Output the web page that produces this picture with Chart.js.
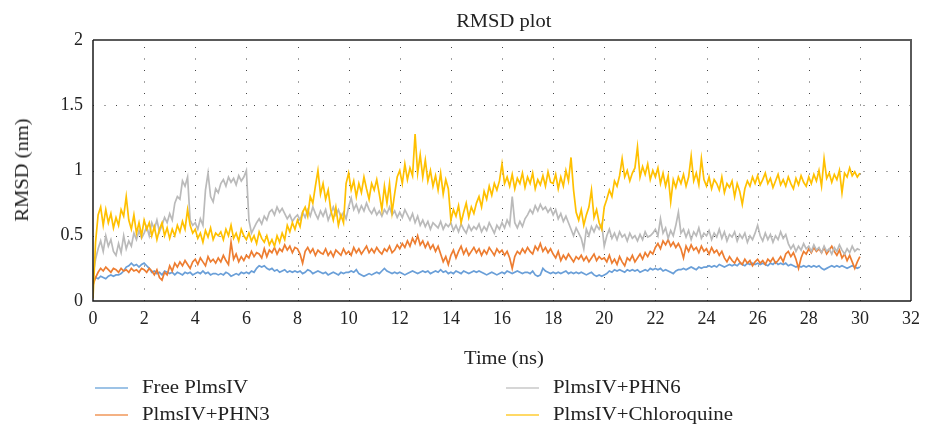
<!DOCTYPE html>
<html>
<head>
<meta charset="utf-8">
<script src="https://cdn.jsdelivr.net/npm/chart.js@4/dist/chart.umd.min.js"></script>
<style>
  html, body { margin: 0; padding: 0; background: #fff; }
  #wrap { position: relative; width: 927px; height: 425px; font-family: "Liberation Serif", serif; color: #222; }
  #chart { position: absolute; left: 0; top: 0; }
  .txt { position: absolute; font-size: 18px; line-height: 20px; white-space: nowrap; }
  .title { left: 0; width: 1007px; top: 11px; text-align: center; }
  .title span { display: inline-block; transform: scaleX(1.14); }
  .xtitle { left: 0; width: 1007px; top: 348px; text-align: center; }
  .xtitle span { display: inline-block; transform: scaleX(1.14); }
  .ytitle { left: 22px; top: 170px; width: 0; height: 0; }
  .ytitle span { position: absolute; left: 0; top: 0; transform: translate(-50%, -50%) rotate(-90deg) scaleX(1.14); }
  .leg { transform: scaleX(1.16); transform-origin: 0 50%; }
  .swatch { position: absolute; width: 33px; height: 2px; }
</style>
</head>
<body>
<div id="wrap">
  <canvas id="chart" width="927" height="425"></canvas>
  <div class="txt title"><span>RMSD plot</span></div>
  <div class="txt xtitle"><span>Time (ns)</span></div>
  <div class="txt ytitle"><span>RMSD (nm)</span></div>
  <div id="legend"></div>
</div>
<script>
// Sampling interval of the trajectories (ns)
const TIME_STEP = 0.1;

// Axis ranges and tick spacing
const X_MIN = 0, X_MAX = 32, X_STEP = 2;
const Y_MIN = 0, Y_MAX = 2, Y_STEP = 0.5;

const seriesNames = ["Free PlmsIV", "PlmsIV+PHN3", "PlmsIV+PHN6", "PlmsIV+Chloroquine"];

// RMSD (nm), one row per nanosecond
const freePlmsIV = [
  0.15,0.18,0.17,0.19,0.18,0.17,0.19,0.2,0.19,0.2,
  0.2,0.21,0.23,0.26,0.27,0.29,0.27,0.28,0.26,0.28,
  0.29,0.27,0.25,0.22,0.23,0.21,0.22,0.2,0.23,0.22,
  0.21,0.22,0.2,0.22,0.21,0.2,0.22,0.21,0.22,0.2,
  0.21,0.22,0.21,0.23,0.21,0.22,0.2,0.21,0.21,0.2,
  0.21,0.2,0.22,0.21,0.19,0.2,0.21,0.2,0.22,0.21,
  0.22,0.21,0.23,0.22,0.25,0.27,0.26,0.27,0.25,0.24,
  0.25,0.23,0.24,0.22,0.23,0.24,0.22,0.23,0.22,0.23,
  0.22,0.23,0.21,0.22,0.24,0.23,0.21,0.22,0.23,0.22,
  0.21,0.22,0.2,0.21,0.22,0.21,0.2,0.22,0.21,0.22,
  0.22,0.23,0.22,0.24,0.21,0.2,0.19,0.2,0.21,0.2,
  0.21,0.22,0.21,0.23,0.25,0.23,0.22,0.21,0.22,0.21,
  0.22,0.21,0.2,0.21,0.22,0.23,0.22,0.21,0.22,0.23,
  0.22,0.23,0.21,0.22,0.23,0.22,0.24,0.22,0.23,0.21,
  0.22,0.21,0.23,0.22,0.21,0.23,0.22,0.21,0.22,0.23,
  0.22,0.23,0.22,0.21,0.2,0.21,0.22,0.21,0.2,0.21,
  0.22,0.21,0.23,0.22,0.21,0.22,0.23,0.22,0.21,0.22,
  0.22,0.21,0.23,0.2,0.19,0.2,0.25,0.23,0.22,0.21,
  0.22,0.21,0.22,0.21,0.22,0.23,0.21,0.22,0.21,0.22,
  0.21,0.22,0.21,0.2,0.21,0.22,0.2,0.19,0.2,0.19,
  0.2,0.21,0.23,0.22,0.24,0.23,0.24,0.23,0.22,0.24,
  0.23,0.24,0.23,0.24,0.22,0.23,0.24,0.23,0.25,0.24,
  0.25,0.24,0.25,0.23,0.24,0.23,0.22,0.21,0.23,0.24,
  0.24,0.25,0.24,0.25,0.26,0.25,0.24,0.26,0.25,0.26,
  0.26,0.27,0.26,0.27,0.26,0.28,0.27,0.26,0.27,0.28,
  0.27,0.28,0.27,0.29,0.28,0.27,0.29,0.28,0.29,0.28,
  0.29,0.28,0.29,0.28,0.27,0.29,0.28,0.3,0.28,0.29,
  0.28,0.29,0.27,0.28,0.27,0.26,0.27,0.26,0.27,0.26,
  0.27,0.26,0.27,0.26,0.27,0.25,0.24,0.25,0.26,0.27,
  0.26,0.27,0.26,0.27,0.26,0.25,0.26,0.27,0.26,0.25,
  0.26
];

const phn3 = [
  0.12,0.18,0.22,0.25,0.23,0.26,0.24,0.22,0.25,0.24,
  0.22,0.25,0.23,0.24,0.22,0.25,0.23,0.24,0.22,0.25,
  0.24,0.22,0.25,0.23,0.2,0.24,0.18,0.16,0.22,0.2,
  0.27,0.23,0.29,0.26,0.3,0.27,0.31,0.28,0.25,0.3,
  0.32,0.28,0.33,0.3,0.27,0.34,0.3,0.32,0.29,0.33,
  0.3,0.35,0.31,0.28,0.45,0.32,0.36,0.3,0.34,0.31,
  0.35,0.33,0.38,0.34,0.37,0.36,0.33,0.4,0.34,0.39,
  0.37,0.41,0.36,0.4,0.38,0.43,0.39,0.42,0.37,0.41,
  0.4,0.36,0.29,0.38,0.41,0.37,0.4,0.35,0.39,0.37,
  0.36,0.4,0.35,0.38,0.34,0.39,0.37,0.35,0.4,0.36,
  0.38,0.35,0.41,0.37,0.4,0.36,0.39,0.42,0.37,0.4,
  0.37,0.41,0.38,0.36,0.4,0.38,0.42,0.37,0.39,0.43,
  0.4,0.44,0.41,0.46,0.42,0.48,0.44,0.5,0.43,0.46,
  0.41,0.45,0.4,0.43,0.38,0.42,0.36,0.3,0.34,0.28,
  0.35,0.39,0.33,0.38,0.42,0.36,0.4,0.35,0.38,0.41,
  0.37,0.4,0.35,0.39,0.36,0.41,0.38,0.35,0.4,0.37,
  0.39,0.35,0.38,0.33,0.25,0.34,0.38,0.36,0.4,0.37,
  0.41,0.38,0.36,0.42,0.39,0.44,0.38,0.41,0.37,0.4,
  0.36,0.33,0.38,0.31,0.35,0.32,0.36,0.33,0.3,0.34,
  0.32,0.35,0.31,0.34,0.3,0.33,0.36,0.31,0.34,0.32,
  0.33,0.3,0.35,0.29,0.32,0.28,0.34,0.3,0.27,0.33,
  0.31,0.35,0.3,0.33,0.36,0.32,0.37,0.34,0.38,0.36,
  0.41,0.44,0.4,0.46,0.43,0.47,0.42,0.45,0.41,0.44,
  0.4,0.33,0.42,0.38,0.43,0.39,0.41,0.37,0.42,0.38,
  0.4,0.36,0.41,0.37,0.39,0.35,0.38,0.33,0.3,0.34,
  0.31,0.29,0.33,0.3,0.28,0.32,0.29,0.31,0.27,0.3,
  0.32,0.29,0.31,0.28,0.32,0.3,0.33,0.29,0.31,0.34,
  0.3,0.36,0.38,0.34,0.37,0.32,0.25,0.33,0.38,0.36,
  0.4,0.37,0.41,0.38,0.4,0.37,0.41,0.36,0.39,0.42,
  0.38,0.35,0.39,0.33,0.36,0.31,0.35,0.3,0.25,0.3,
  0.34
];

const phn6 = [
  0.2,0.32,0.4,0.46,0.38,0.5,0.42,0.47,0.38,0.35,
  0.44,0.37,0.5,0.4,0.46,0.42,0.52,0.47,0.54,0.48,
  0.52,0.57,0.5,0.6,0.55,0.62,0.53,0.58,0.64,0.6,
  0.67,0.62,0.75,0.8,0.78,0.92,0.88,0.95,0.62,0.58,
  0.6,0.55,0.63,0.58,0.85,0.98,0.8,0.76,0.86,0.83,
  0.9,0.93,0.88,0.95,0.91,0.94,0.89,0.96,0.92,0.95,
  1.0,0.62,0.52,0.56,0.6,0.63,0.59,0.65,0.62,0.68,
  0.7,0.66,0.72,0.68,0.71,0.67,0.63,0.66,0.61,0.64,
  0.66,0.62,0.68,0.64,0.7,0.65,0.72,0.67,0.63,0.69,
  0.65,0.7,0.62,0.67,0.72,0.66,0.7,0.64,0.68,0.63,
  0.72,0.79,0.7,0.74,0.68,0.73,0.69,0.75,0.7,0.67,
  0.71,0.66,0.69,0.65,0.7,0.67,0.72,0.66,0.69,0.64,
  0.68,0.64,0.7,0.66,0.62,0.67,0.6,0.65,0.58,0.62,
  0.57,0.61,0.55,0.6,0.58,0.56,0.61,0.55,0.59,0.57,
  0.6,0.54,0.58,0.53,0.59,0.55,0.52,0.58,0.54,0.57,
  0.55,0.59,0.53,0.57,0.54,0.6,0.56,0.52,0.58,0.55,
  0.6,0.56,0.62,0.58,0.8,0.6,0.56,0.61,0.57,0.63,
  0.66,0.7,0.67,0.73,0.69,0.74,0.7,0.72,0.68,0.71,
  0.66,0.7,0.63,0.67,0.61,0.65,0.6,0.55,0.5,0.56,
  0.52,0.48,0.4,0.55,0.5,0.57,0.53,0.58,0.55,0.59,
  0.42,0.5,0.55,0.48,0.52,0.47,0.53,0.49,0.51,0.46,
  0.52,0.48,0.5,0.46,0.51,0.47,0.53,0.49,0.5,0.52,
  0.55,0.5,0.63,0.52,0.56,0.48,0.54,0.5,0.58,0.68,
  0.52,0.55,0.49,0.54,0.47,0.53,0.5,0.56,0.48,0.52,
  0.5,0.54,0.47,0.52,0.49,0.55,0.48,0.53,0.46,0.51,
  0.49,0.53,0.46,0.51,0.48,0.52,0.45,0.5,0.47,0.52,
  0.58,0.5,0.46,0.52,0.47,0.51,0.45,0.5,0.47,0.53,
  0.48,0.51,0.44,0.4,0.43,0.38,0.42,0.39,0.44,0.4,
  0.42,0.38,0.43,0.39,0.41,0.37,0.42,0.38,0.4,0.36,
  0.41,0.38,0.43,0.39,0.36,0.4,0.37,0.42,0.38,0.4,
  0.39
];

const chloroquine = [
  0.02,0.45,0.66,0.72,0.58,0.7,0.6,0.67,0.56,0.64,
  0.58,0.7,0.65,0.8,0.62,0.55,0.66,0.52,0.6,0.5,
  0.62,0.55,0.6,0.5,0.57,0.47,0.55,0.6,0.5,0.56,
  0.48,0.55,0.5,0.58,0.53,0.61,0.55,0.7,0.58,0.52,
  0.55,0.48,0.52,0.45,0.54,0.49,0.56,0.47,0.52,0.5,
  0.53,0.47,0.55,0.5,0.58,0.48,0.52,0.46,0.55,0.5,
  0.47,0.52,0.46,0.5,0.44,0.53,0.48,0.45,0.5,0.43,
  0.47,0.42,0.5,0.45,0.52,0.47,0.58,0.53,0.6,0.55,
  0.62,0.57,0.68,0.72,0.65,0.8,0.75,0.88,1.0,0.82,
  0.9,0.78,0.85,0.7,0.62,0.72,0.58,0.66,0.6,0.9,
  0.98,0.85,0.92,0.8,0.9,0.83,0.95,0.86,0.78,0.9,
  0.85,0.93,0.82,0.7,0.88,0.75,0.9,0.68,0.82,0.95,
  1.0,0.9,1.05,0.93,1.02,0.96,1.28,0.98,1.12,0.95,
  1.08,0.92,1.0,0.88,0.96,0.85,0.98,0.82,0.93,0.86,
  0.62,0.7,0.65,0.73,0.6,0.68,0.75,0.64,0.72,0.67,
  0.75,0.8,0.72,0.84,0.78,0.88,0.81,0.9,0.85,0.92,
  1.05,0.9,0.95,0.88,0.97,0.86,0.94,0.9,0.98,0.87,
  0.95,0.9,0.98,0.86,0.93,0.89,0.96,0.88,0.99,0.91,
  0.9,0.97,0.86,0.95,0.88,1.0,0.92,1.1,0.85,0.68,
  0.62,0.7,0.58,0.66,0.72,0.85,0.64,0.7,0.6,0.55,
  0.72,0.78,0.85,0.8,0.92,0.88,0.96,1.09,0.95,1.0,
  0.92,0.98,1.02,1.18,0.95,1.03,0.97,1.05,0.93,1.0,
  0.95,1.02,0.9,0.98,0.88,0.96,0.76,0.93,0.87,0.95,
  0.9,0.97,0.88,0.95,1.11,0.92,0.98,0.89,1.09,0.93,
  0.88,0.95,0.86,0.93,0.9,0.85,0.95,0.83,0.9,0.87,
  0.92,0.8,0.9,0.84,0.74,0.86,0.92,0.88,0.95,0.9,
  0.96,0.89,0.93,0.98,0.9,0.94,0.87,0.92,0.97,0.89,
  0.93,0.88,0.95,0.9,0.86,0.94,0.89,0.96,0.91,0.88,
  0.95,0.9,0.97,0.92,1.0,0.88,1.09,0.94,0.98,0.91,
  0.97,0.93,1.0,0.83,0.98,0.95,1.02,0.96,0.99,0.95,
  0.98
];

const lineColors   = ["#6a9fd8", "#ed7d31", "#bababa", "#ffc000"];
const legendColors = ["#9dc3e6", "#f4b183", "#d6d6d6", "#ffd966"];
const drawOrder    = [3, 2, 1, 0];   // chloroquine drawn on top
const seriesValues = [freePlmsIV, phn3, phn6, chloroquine];

function toPoints(values) {
  return values.map((v, i) => ({ x: Math.round(i * TIME_STEP * 10) / 10, y: v }));
}

const FONT = "'Liberation Serif', serif";
const TEXT = "#222";

// Dotted grid at every tick, then a box around the plotting area
const gridAndFrame = {
  id: "gridAndFrame",
  beforeDatasetsDraw(chart) {
    const a = chart.chartArea, ctx = chart.ctx;
    const xs = chart.scales.x, ys = chart.scales.y;
    ctx.save();
    ctx.strokeStyle = "#444";
    ctx.lineWidth = 1;
    ctx.setLineDash([1, 10.5]);
    xs.ticks.forEach(t => {
      const px = Math.round(xs.getPixelForValue(t.value)) + 0.5;
      if (px <= a.left + 1 || px >= a.right - 1) return;
      ctx.beginPath(); ctx.moveTo(px, a.bottom); ctx.lineTo(px, a.top); ctx.stroke();
    });
    ys.ticks.forEach(t => {
      const py = Math.round(ys.getPixelForValue(t.value)) + 0.5;
      if (py <= a.top + 1 || py >= a.bottom - 1) return;
      ctx.beginPath(); ctx.moveTo(a.left, py); ctx.lineTo(a.right, py); ctx.stroke();
    });
    ctx.restore();
  },
  afterDraw(chart) {
    const a = chart.chartArea, ctx = chart.ctx;
    ctx.save();
    ctx.setLineDash([]);
    ctx.strokeStyle = "#5a5a5a";
    ctx.lineWidth = 2;
    ctx.beginPath();
    ctx.moveTo(a.left, a.top);
    ctx.lineTo(a.right, a.top);
    ctx.lineTo(a.right, a.bottom);
    ctx.stroke();
    ctx.strokeStyle = "#1a1a1a";
    ctx.lineWidth = 1.5;
    ctx.beginPath();
    ctx.moveTo(a.left, a.top);
    ctx.lineTo(a.left, a.bottom);
    ctx.lineTo(a.right, a.bottom);
    ctx.stroke();
    ctx.restore();
  }
};

new Chart(document.getElementById("chart"), {
  type: "line",
  data: {
    datasets: seriesNames.map((name, k) => ({
      label: name,
      data: toPoints(seriesValues[k]),
      borderColor: lineColors[k],
      backgroundColor: lineColors[k],
      borderWidth: 1.7,
      pointRadius: 0,
      tension: 0,
      fill: false,
      order: drawOrder[k]
    }))
  },
  options: {
    responsive: false,
    animation: false,
    devicePixelRatio: 1,
    layout: { padding: { left: 0, right: 13, top: 40, bottom: 54 } },
    plugins: { legend: { display: false }, title: { display: false }, tooltip: { enabled: false } },
    scales: {
      x: {
        type: "linear",
        min: X_MIN, max: X_MAX,
        afterFit(s) { s.height = 70; },
        ticks: { stepSize: X_STEP, color: TEXT, font: { family: FONT, size: 18 }, padding: 7, maxRotation: 0,
                 callback: v => String(v) },
        grid: { display: false, drawTicks: false },
        border: { display: false }
      },
      y: {
        min: Y_MIN, max: Y_MAX,
        afterFit(s) { s.width = 93; },
        ticks: { stepSize: Y_STEP, color: TEXT, font: { family: FONT, size: 18 }, padding: 10,
                 callback: v => String(v) },
        grid: { display: false, drawTicks: false },
        border: { display: false }
      }
    }
  },
  plugins: [gridAndFrame]
});

// Two-column legend below the axis title
const legendSlots = [
  { x: 95, y: 388 }, { x: 95, y: 415 },
  { x: 506, y: 388 }, { x: 506, y: 415 }
];
const legend = document.getElementById("legend");
seriesNames.forEach((name, k) => {
  const s = legendSlots[k];
  const sw = document.createElement("div");
  sw.className = "swatch";
  sw.style.left = s.x + "px";
  sw.style.top = (s.y - 1) + "px";
  sw.style.background = legendColors[k];
  legend.appendChild(sw);
  const t = document.createElement("div");
  t.className = "txt leg";
  t.style.left = (s.x + 47) + "px";
  t.style.top = (s.y - 11) + "px";
  t.textContent = name;
  legend.appendChild(t);
});
</script>
</body>
</html>
